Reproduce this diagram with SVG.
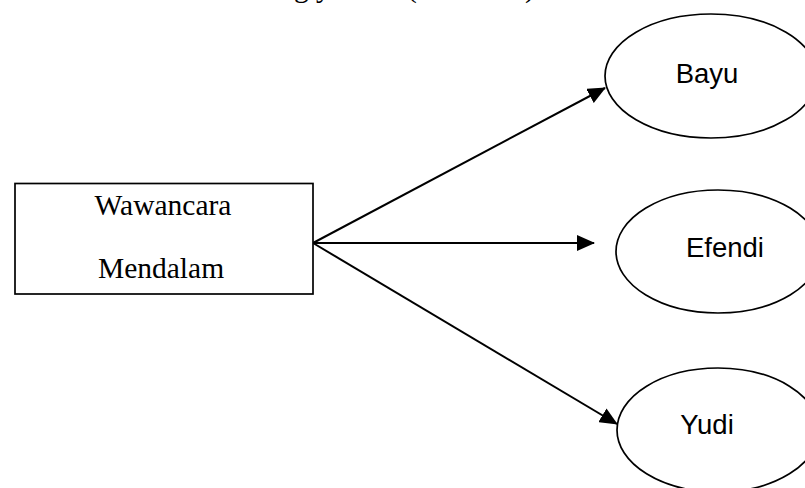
<svg xmlns="http://www.w3.org/2000/svg" width="805" height="488" viewBox="0 0 805 488">
  <style>
    .serif { font-family: "Liberation Serif", "Times New Roman", serif; font-size: 29.5px; fill: #000; }
    .sans { font-family: "Liberation Sans", Arial, sans-serif; font-size: 27.5px; fill: #000; text-anchor: middle; }
    .shape { fill: #fff; stroke: #000; stroke-width: 1.7; }
    .conn { stroke: #000; stroke-width: 2; fill: none; }
  </style>
  <defs>
    <marker id="arrow" markerUnits="userSpaceOnUse" markerWidth="18" markerHeight="16" viewBox="0 0 18 16" refX="17" refY="8" orient="auto">
      <path d="M0,0 L18,8 L0,16 Z" fill="#000"/>
    </marker>
  </defs>
  <rect width="805" height="488" fill="#fff"/>

  <text class="serif" x="294" y="-3">g<tspan x="316">y</tspan><tspan x="407">(informan)</tspan></text>

  <g id="connectors">
    <line class="conn" x1="313" y1="243" x2="605" y2="88" marker-end="url(#arrow)"/>
    <line class="conn" x1="313" y1="243" x2="594" y2="243" marker-end="url(#arrow)"/>
    <line class="conn" x1="313" y1="243" x2="617" y2="424" marker-end="url(#arrow)"/>
  </g>

  <g id="wawancara">
    <rect class="shape" x="15" y="183.5" width="298" height="110.5"/>
    <text class="serif" x="163" y="215" text-anchor="middle">Wawancara</text>
    <text class="serif" x="161" y="278" text-anchor="middle">Mendalam</text>
  </g>

  <g id="bayu">
    <ellipse class="shape" cx="711" cy="76" rx="106" ry="62"/>
    <text class="sans" x="707" y="83">Bayu</text>
  </g>

  <g id="efendi">
    <ellipse class="shape" cx="718" cy="251.5" rx="102" ry="61.5"/>
    <text class="sans" x="725" y="257">Efendi</text>
  </g>

  <g id="yudi">
    <ellipse class="shape" cx="718" cy="430" rx="101" ry="62"/>
    <text class="sans" x="707" y="434">Yudi</text>
  </g>
</svg>
